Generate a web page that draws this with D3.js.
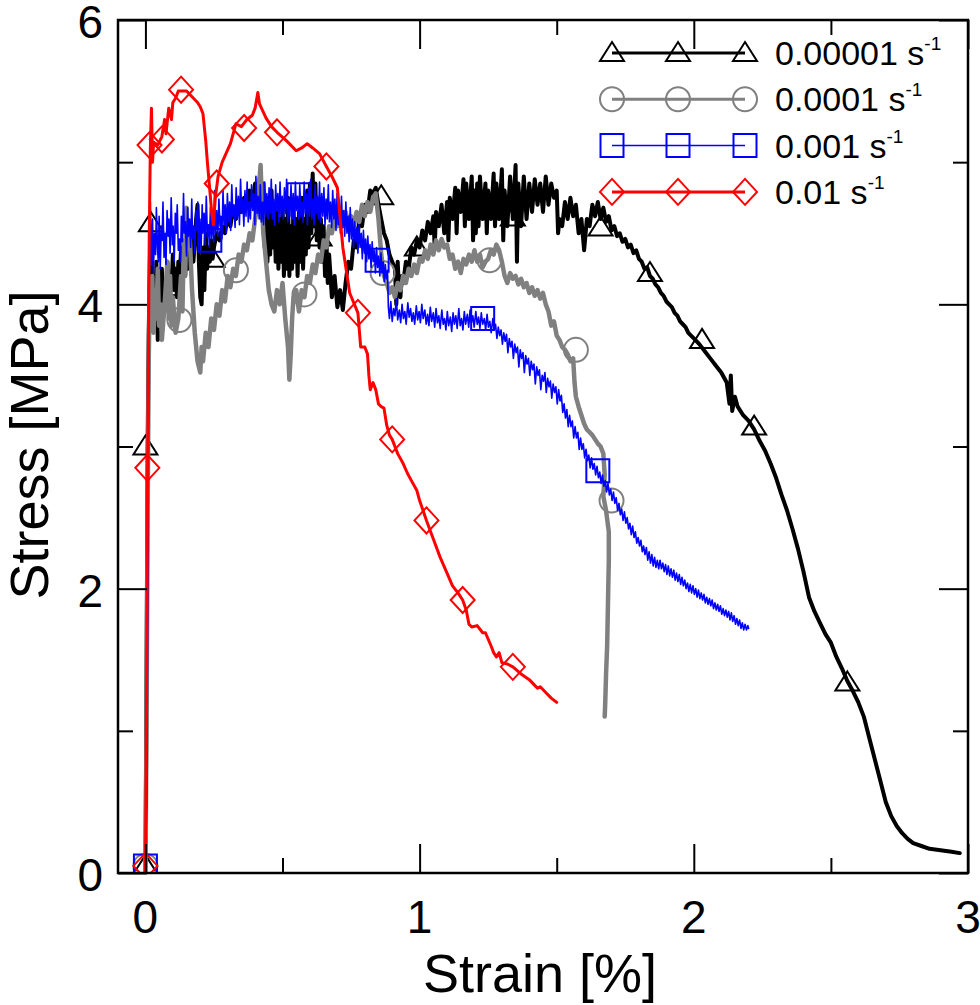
<!DOCTYPE html>
<html>
<head>
<meta charset="utf-8">
<script src="https://cdn.jsdelivr.net/npm/d3@7"></script>
<style>
body { margin: 0; background: #fff; }
text { font-family: "Liberation Sans", Arial, sans-serif; fill: #000; }
</style>
</head>
<body>
<div id="chart"></div>
<script>
// strain rates shown in the legend
var rates = ["0.00001", "0.0001", "0.001", "0.01"];
var xTicks = [0, 1, 2, 3];
var yTicks = [0, 2, 4, 6];

// [strain %, stress MPa]
var s5 = [[0,0],[0.003,1.0],[0.006,2.2],[0.008,3.0],[0.012,3.8],[0.018,4.5],[0.022,4.3],[0.026,3.85],[0.03,4.2],[0.035,3.9],[0.04,4.3],[0.045,3.75],[0.05,4.05],[0.055,3.85],[0.06,4.25],[0.065,3.95],[0.07,4.15],[0.075,4.0],[0.08,4.3],[0.085,4.05],[0.09,4.2],[0.095,4.1],[0.10,4.35],[0.105,4.1],[0.11,4.25],[0.115,4.05],[0.12,4.3],[0.125,4.15],[0.13,4.4],[0.135,4.2],[0.14,4.35],[0.145,4.2],[0.15,4.45],[0.155,4.25],[0.16,4.4],[0.165,4.25],[0.17,4.5],[0.175,4.3],[0.18,4.45],[0.185,4.6],[0.19,4.7],[0.195,4.3],[0.20,4.05],[0.205,4.0],[0.21,4.4],[0.215,4.1],[0.22,4.5],[0.225,4.25],[0.23,4.4],[0.235,4.3],[0.24,4.45],[0.245,4.32],[0.25,4.4],[0.26,4.5],[0.27,4.45],[0.28,4.55],[0.29,4.5],[0.30,4.62],[0.31,4.55],[0.32,4.68],[0.33,4.6],[0.34,4.72],[0.35,4.65],[0.36,4.75],[0.37,4.68],[0.38,4.8],[0.39,4.72],[0.40,4.85],[0.41,4.8],[0.42,4.93],[0.425,4.6],[0.43,4.85],[0.435,4.4],[0.44,4.75],[0.445,4.3],[0.45,4.7],[0.455,4.35],[0.46,4.8],[0.465,4.4],[0.47,4.7],[0.475,4.3],[0.48,4.65],[0.485,4.25],[0.49,4.6],[0.495,4.3],[0.50,4.7],[0.505,4.2],[0.51,4.6],[0.515,4.25],[0.52,4.75],[0.525,4.2],[0.53,4.55],[0.535,4.25],[0.54,4.7],[0.545,4.3],[0.55,4.6],[0.555,4.2],[0.56,4.65],[0.565,4.3],[0.57,4.75],[0.575,4.25],[0.58,4.6],[0.585,4.35],[0.59,4.8],[0.595,4.4],[0.60,4.85],[0.605,4.5],[0.61,4.92],[0.615,4.55],[0.62,4.85],[0.625,4.45],[0.63,4.7],[0.635,4.4],[0.64,4.6],[0.645,4.3],[0.65,4.55],[0.655,4.2],[0.66,4.45],[0.665,4.15],[0.67,4.35],[0.68,4.05],[0.69,4.2],[0.70,3.98],[0.71,4.1],[0.72,3.96],[0.73,4.15],[0.74,4.3],[0.75,4.25],[0.76,4.45],[0.77,4.4],[0.78,4.6],[0.79,4.55],[0.80,4.7],[0.81,4.65],[0.82,4.8],[0.83,4.78],[0.84,4.82],[0.85,4.7],[0.86,4.6],[0.87,4.5],[0.88,4.45],[0.89,4.35],[0.90,4.3],[0.91,4.25],[0.915,4.0],[0.92,4.3],[0.925,4.1],[0.93,4.05],[0.935,4.2],[0.94,4.15],[0.95,4.3],[0.96,4.25],[0.97,4.4],[0.98,4.35],[0.99,4.45],[1.0,4.4],[1.01,4.52],[1.02,4.45],[1.03,4.58],[1.04,4.5],[1.05,4.62],[1.055,4.4],[1.06,4.65],[1.07,4.55],[1.08,4.7],[1.09,4.5],[1.10,4.72],[1.105,4.45],[1.11,4.75],[1.12,4.6],[1.13,4.82],[1.135,4.5],[1.14,4.8],[1.15,4.65],[1.16,4.88],[1.165,4.55],[1.17,4.85],[1.18,4.6],[1.19,4.9],[1.195,4.45],[1.20,4.8],[1.205,4.5],[1.21,4.85],[1.215,4.55],[1.22,4.9],[1.23,4.6],[1.24,4.85],[1.245,4.5],[1.25,4.8],[1.26,4.6],[1.27,4.92],[1.275,4.55],[1.28,4.85],[1.29,4.6],[1.30,4.95],[1.305,4.45],[1.31,4.8],[1.32,4.55],[1.33,4.9],[1.34,4.6],[1.35,4.98],[1.355,4.3],[1.36,4.85],[1.37,4.55],[1.38,4.9],[1.39,4.6],[1.40,4.85],[1.41,4.65],[1.42,4.88],[1.43,4.7],[1.44,4.85],[1.45,4.65],[1.46,4.9],[1.47,4.7],[1.48,4.85],[1.49,4.75],[1.50,4.8],[1.505,4.5],[1.51,4.6],[1.52,4.55],[1.53,4.72],[1.54,4.6],[1.55,4.75],[1.56,4.62],[1.57,4.7],[1.58,4.5],[1.59,4.6],[1.60,4.38],[1.61,4.6],[1.62,4.55],[1.63,4.7],[1.64,4.62],[1.65,4.72],[1.66,4.6],[1.67,4.68],[1.68,4.58],[1.69,4.62],[1.70,4.52],[1.71,4.55],[1.72,4.48],[1.73,4.5],[1.74,4.44],[1.75,4.46],[1.76,4.4],[1.77,4.42],[1.78,4.36],[1.79,4.38],[1.80,4.32],[1.81,4.3],[1.82,4.25],[1.83,4.26],[1.84,4.2],[1.85,4.18],[1.86,4.14],[1.87,4.12],[1.88,4.08],[1.89,4.06],[1.90,4.02],[1.91,4.0],[1.92,3.98],[1.93,3.94],[1.94,3.92],[1.95,3.88],[1.96,3.86],[1.97,3.84],[1.98,3.8],[1.99,3.78],[2.0,3.76],[2.02,3.72],[2.04,3.67],[2.06,3.62],[2.08,3.57],[2.10,3.52],[2.12,3.45],[2.13,3.3],[2.135,3.5],[2.14,3.25],[2.15,3.35],[2.16,3.28],[2.18,3.22],[2.20,3.18],[2.22,3.12],[2.24,3.04],[2.26,2.97],[2.28,2.88],[2.30,2.78],[2.32,2.66],[2.34,2.55],[2.36,2.42],[2.38,2.28],[2.40,2.12],[2.42,1.94],[2.44,1.84],[2.46,1.76],[2.48,1.68],[2.50,1.62],[2.52,1.52],[2.54,1.44],[2.56,1.35],[2.58,1.28],[2.60,1.2],[2.62,1.1],[2.64,0.95],[2.66,0.8],[2.68,0.65],[2.70,0.5],[2.72,0.4],[2.74,0.33],[2.76,0.28],[2.78,0.24],[2.80,0.21],[2.83,0.19],[2.86,0.17],[2.90,0.16],[2.94,0.15],[2.97,0.14]];

var s4 = [[0,0],[0.004,1.0],[0.008,2.5],[0.012,3.6],[0.016,4.1],[0.02,3.85],[0.025,4.2],[0.03,3.8],[0.035,4.1],[0.04,3.9],[0.045,4.25],[0.05,3.85],[0.055,4.0],[0.06,3.75],[0.07,4.0],[0.08,4.3],[0.085,3.9],[0.09,4.2],[0.095,3.85],[0.10,4.05],[0.11,3.8],[0.12,3.9],[0.13,4.2],[0.135,3.95],[0.14,4.45],[0.145,4.2],[0.15,4.68],[0.155,4.4],[0.16,4.55],[0.17,4.1],[0.18,3.8],[0.19,3.6],[0.20,3.52],[0.205,3.7],[0.21,3.6],[0.22,3.8],[0.23,3.7],[0.24,3.9],[0.25,3.82],[0.26,4.0],[0.27,3.92],[0.28,4.1],[0.29,4.02],[0.30,4.2],[0.31,4.12],[0.32,4.25],[0.33,4.2],[0.34,4.35],[0.35,4.3],[0.36,4.42],[0.37,4.38],[0.38,4.5],[0.39,4.45],[0.40,4.6],[0.41,4.7],[0.415,4.85],[0.42,4.98],[0.425,4.7],[0.43,4.5],[0.44,4.3],[0.45,4.1],[0.46,4.0],[0.47,3.95],[0.48,4.1],[0.49,4.0],[0.50,4.15],[0.51,3.9],[0.52,3.7],[0.525,3.47],[0.53,3.65],[0.535,3.9],[0.54,4.05],[0.55,4.1],[0.56,3.95],[0.57,4.1],[0.58,4.05],[0.59,4.2],[0.60,4.15],[0.61,4.28],[0.62,4.22],[0.63,4.35],[0.64,4.3],[0.65,4.45],[0.66,4.4],[0.67,4.55],[0.68,4.5],[0.69,4.6],[0.70,4.55],[0.71,4.62],[0.72,4.55],[0.73,4.65],[0.74,4.58],[0.75,4.62],[0.76,4.55],[0.77,4.65],[0.78,4.58],[0.79,4.7],[0.80,4.62],[0.81,4.72],[0.82,4.65],[0.83,4.75],[0.84,4.78],[0.85,4.6],[0.86,4.35],[0.87,4.2],[0.88,4.15],[0.89,4.08],[0.90,4.12],[0.91,4.05],[0.92,4.15],[0.93,4.1],[0.94,4.2],[0.95,4.15],[0.96,4.25],[0.97,4.2],[0.98,4.28],[0.99,4.22],[1.0,4.32],[1.01,4.3],[1.02,4.38],[1.03,4.32],[1.04,4.42],[1.05,4.35],[1.06,4.45],[1.07,4.38],[1.08,4.46],[1.09,4.4],[1.10,4.42],[1.11,4.32],[1.12,4.35],[1.13,4.25],[1.14,4.3],[1.15,4.22],[1.16,4.32],[1.17,4.28],[1.18,4.35],[1.19,4.3],[1.20,4.38],[1.21,4.3],[1.22,4.35],[1.23,4.26],[1.24,4.3],[1.25,4.32],[1.26,4.38],[1.27,4.35],[1.28,4.42],[1.29,4.38],[1.30,4.3],[1.31,4.2],[1.32,4.15],[1.33,4.22],[1.34,4.18],[1.35,4.2],[1.36,4.14],[1.37,4.18],[1.38,4.12],[1.39,4.15],[1.40,4.08],[1.41,4.12],[1.42,4.06],[1.43,4.1],[1.44,4.04],[1.45,4.08],[1.46,4.0],[1.47,3.95],[1.48,3.85],[1.49,3.88],[1.50,3.78],[1.51,3.75],[1.52,3.7],[1.53,3.68],[1.54,3.65],[1.55,3.6],[1.56,3.62],[1.565,3.45],[1.57,3.35],[1.58,3.28],[1.59,3.22],[1.60,3.16],[1.61,3.12],[1.62,3.1],[1.63,3.08],[1.64,3.05],[1.65,3.02],[1.66,3.0],[1.67,2.95],[1.675,2.8],[1.67,2.65],[1.68,2.55],[1.69,2.4],[1.69,2.2],[1.688,2.0],[1.686,1.8],[1.684,1.6],[1.68,1.4],[1.677,1.2],[1.675,1.1]];

var s3 = [[0,0.05],[0.005,0.5],[0.01,2.5],[0.014,4.2],[0.018,4.72],[0.022,4.28],[0.026,4.6],[0.029,4.22],[0.033,4.5],[0.037,4.35],[0.04,4.68],[0.044,4.4],[0.047,4.3],[0.05,4.62],[0.054,4.25],[0.058,4.55],[0.061,4.45],[0.064,4.72],[0.068,4.33],[0.072,4.5],[0.075,4.28],[0.079,4.66],[0.083,4.48],[0.086,4.6],[0.09,4.36],[0.094,4.75],[0.098,4.42],[0.101,4.55],[0.105,4.3],[0.109,4.64],[0.113,4.5],[0.116,4.7],[0.12,4.38],[0.124,4.46],[0.128,4.3],[0.131,4.62],[0.135,4.44],[0.139,4.78],[0.142,4.5],[0.146,4.58],[0.15,4.34],[0.154,4.68],[0.157,4.48],[0.161,4.6],[0.165,4.4],[0.169,4.74],[0.172,4.46],[0.176,4.55],[0.18,4.36],[0.184,4.66],[0.188,4.52],[0.191,4.72],[0.195,4.42],[0.199,4.6],[0.203,4.38],[0.207,4.7],[0.21,4.5],[0.214,4.64],[0.218,4.42],[0.222,4.76],[0.226,4.48],[0.23,4.56],[0.233,4.4],[0.237,4.68],[0.241,4.46],[0.245,4.62],[0.249,4.44],[0.252,4.8],[0.256,4.5],[0.26,4.66],[0.264,4.48],[0.268,4.74],[0.272,4.55],[0.275,4.62],[0.279,4.46],[0.283,4.8],[0.287,4.56],[0.291,4.7],[0.295,4.5],[0.299,4.78],[0.303,4.58],[0.307,4.72],[0.311,4.52],[0.315,4.84],[0.319,4.62],[0.323,4.7],[0.327,4.54],[0.331,4.82],[0.335,4.6],[0.339,4.76],[0.343,4.56],[0.347,4.88],[0.351,4.64],[0.355,4.74],[0.359,4.55],[0.363,4.8],[0.367,4.62],[0.371,4.86],[0.375,4.58],[0.379,4.72],[0.383,4.6],[0.387,4.84],[0.391,4.66],[0.395,4.78],[0.399,4.56],[0.403,4.9],[0.407,4.64],[0.411,4.76],[0.415,4.6],[0.419,4.84],[0.423,4.58],[0.427,4.72],[0.431,4.56],[0.435,4.86],[0.439,4.62],[0.443,4.78],[0.447,4.6],[0.451,4.82],[0.455,4.64],[0.459,4.88],[0.463,4.6],[0.467,4.74],[0.471,4.56],[0.475,4.84],[0.479,4.66],[0.483,4.78],[0.487,4.58],[0.491,4.86],[0.495,4.62],[0.499,4.76],[0.503,4.6],[0.507,4.82],[0.511,4.64],[0.515,4.88],[0.519,4.58],[0.523,4.74],[0.527,4.62],[0.531,4.84],[0.535,4.6],[0.539,4.78],[0.543,4.56],[0.547,4.86],[0.551,4.66],[0.555,4.76],[0.559,4.6],[0.563,4.84],[0.567,4.62],[0.571,4.72],[0.575,4.58],[0.579,4.86],[0.583,4.64],[0.587,4.78],[0.591,4.56],[0.595,4.82],[0.599,4.62],[0.603,4.88],[0.607,4.6],[0.611,4.74],[0.615,4.56],[0.619,4.84],[0.623,4.64],[0.627,4.76],[0.631,4.6],[0.635,4.86],[0.639,4.58],[0.643,4.78],[0.647,4.62],[0.651,4.82],[0.655,4.56],[0.659,4.74],[0.663,4.6],[0.667,4.84],[0.671,4.58],[0.675,4.72],[0.679,4.54],[0.683,4.8],[0.687,4.6],[0.691,4.74],[0.695,4.52],[0.699,4.78],[0.703,4.56],[0.707,4.7],[0.711,4.5],[0.715,4.76],[0.719,4.54],[0.723,4.66],[0.727,4.48],[0.731,4.72],[0.735,4.5],[0.739,4.62],[0.743,4.44],[0.747,4.68],[0.751,4.46],[0.755,4.6],[0.759,4.4],[0.763,4.58],[0.767,4.44],[0.771,4.54],[0.775,4.36],[0.779,4.56],[0.783,4.4],[0.787,4.5],[0.791,4.32],[0.795,4.52],[0.799,4.36],[0.803,4.46],[0.807,4.3],[0.811,4.48],[0.815,4.32],[0.819,4.42],[0.823,4.26],[0.827,4.44],[0.831,4.3],[0.835,4.38],[0.839,4.22],[0.843,4.4],[0.847,4.26],[0.851,4.34],[0.855,4.2],[0.859,4.36],[0.863,4.22],[0.867,4.3],[0.871,4.16],[0.875,4.28],[0.879,4.18],[0.883,4.24],[0.886,3.98],[0.89,3.9],[0.895,4.02],[0.9,3.88],[0.905,3.97],[0.91,3.92],[0.915,4.04],[0.92,3.89],[0.926,3.96],[0.931,3.87],[0.936,4.0],[0.941,3.9],[0.946,3.95],[0.951,3.86],[0.957,4.01],[0.962,3.91],[0.967,3.97],[0.972,3.88],[0.977,3.94],[0.982,3.86],[0.988,3.99],[0.993,3.89],[0.998,3.95],[1.003,3.87],[1.008,4.0],[1.013,3.9],[1.019,3.96],[1.024,3.86],[1.029,3.93],[1.034,3.85],[1.039,3.98],[1.044,3.88],[1.05,3.94],[1.055,3.84],[1.06,3.97],[1.065,3.87],[1.07,3.92],[1.075,3.83],[1.081,3.96],[1.086,3.86],[1.091,3.9],[1.096,3.82],[1.101,3.95],[1.106,3.85],[1.112,3.91],[1.117,3.81],[1.122,3.94],[1.127,3.86],[1.132,3.92],[1.137,3.83],[1.143,3.97],[1.148,3.85],[1.153,3.9],[1.158,3.82],[1.163,3.95],[1.168,3.86],[1.174,3.93],[1.179,3.84],[1.184,3.96],[1.189,3.87],[1.194,3.92],[1.199,3.84],[1.205,3.95],[1.21,3.86],[1.215,3.91],[1.22,3.83],[1.225,3.94],[1.23,3.86],[1.236,3.9],[1.241,3.82],[1.246,3.93],[1.251,3.84],[1.256,3.88],[1.261,3.8],[1.267,3.9],[1.272,3.82],[1.277,3.86],[1.282,3.76],[1.287,3.84],[1.292,3.78],[1.297,3.82],[1.302,3.72],[1.307,3.8],[1.312,3.74],[1.317,3.79],[1.322,3.66],[1.327,3.76],[1.332,3.7],[1.337,3.74],[1.342,3.62],[1.347,3.72],[1.352,3.66],[1.357,3.7],[1.362,3.56],[1.367,3.68],[1.372,3.62],[1.377,3.66],[1.382,3.52],[1.387,3.64],[1.392,3.58],[1.397,3.62],[1.402,3.5],[1.407,3.6],[1.412,3.54],[1.417,3.58],[1.422,3.44],[1.427,3.56],[1.432,3.5],[1.437,3.54],[1.442,3.4],[1.447,3.5],[1.452,3.46],[1.457,3.52],[1.462,3.38],[1.467,3.48],[1.472,3.42],[1.477,3.46],[1.482,3.34],[1.487,3.44],[1.492,3.38],[1.497,3.42],[1.502,3.3],[1.507,3.4],[1.512,3.32],[1.517,3.36],[1.522,3.24],[1.527,3.3],[1.532,3.2],[1.537,3.26],[1.542,3.14],[1.547,3.22],[1.552,3.14],[1.557,3.18],[1.562,3.06],[1.567,3.14],[1.572,3.06],[1.577,3.1],[1.582,2.98],[1.587,3.06],[1.592,2.98],[1.597,3.02],[1.602,2.92],[1.607,2.98],[1.612,2.9],[1.617,2.94],[1.622,2.85],[1.627,2.92],[1.632,2.84],[1.637,2.88],[1.642,2.8],[1.647,2.86],[1.652,2.78],[1.657,2.82],[1.662,2.74],[1.667,2.8],[1.672,2.72],[1.677,2.76],[1.682,2.68],[1.687,2.74],[1.692,2.66],[1.697,2.7],[1.702,2.62],[1.707,2.68],[1.712,2.6],[1.717,2.64],[1.722,2.55],[1.727,2.6],[1.732,2.52],[1.737,2.56],[1.742,2.48],[1.747,2.54],[1.752,2.46],[1.757,2.5],[1.762,2.42],[1.767,2.46],[1.772,2.38],[1.777,2.44],[1.782,2.36],[1.787,2.4],[1.792,2.32],[1.797,2.36],[1.802,2.3],[1.807,2.34],[1.812,2.26],[1.817,2.3],[1.822,2.24],[1.827,2.29],[1.832,2.2],[1.837,2.26],[1.842,2.18],[1.847,2.24],[1.852,2.16],[1.857,2.22],[1.862,2.15],[1.867,2.2],[1.872,2.14],[1.877,2.2],[1.882,2.14],[1.887,2.18],[1.892,2.12],[1.897,2.17],[1.902,2.1],[1.907,2.16],[1.912,2.09],[1.917,2.14],[1.922,2.08],[1.927,2.13],[1.932,2.06],[1.937,2.11],[1.942,2.05],[1.947,2.1],[1.952,2.03],[1.957,2.08],[1.962,2.02],[1.967,2.06],[1.972,2.0],[1.977,2.04],[1.982,1.98],[1.987,2.03],[1.992,1.97],[1.997,2.02],[2.002,1.96],[2.007,2.0],[2.012,1.94],[2.017,1.99],[2.022,1.93],[2.027,1.97],[2.032,1.92],[2.037,1.96],[2.042,1.9],[2.047,1.94],[2.052,1.89],[2.057,1.93],[2.062,1.88],[2.067,1.92],[2.072,1.86],[2.077,1.9],[2.082,1.85],[2.087,1.89],[2.092,1.84],[2.097,1.88],[2.102,1.82],[2.107,1.86],[2.112,1.81],[2.117,1.85],[2.122,1.8],[2.127,1.84],[2.132,1.78],[2.137,1.83],[2.142,1.77],[2.147,1.81],[2.152,1.75],[2.157,1.79],[2.162,1.74],[2.167,1.78],[2.172,1.72],[2.177,1.76],[2.182,1.71],[2.187,1.75],[2.192,1.71],[2.197,1.74],[2.2,1.72]];

var s2 = [[0,0],[0.004,1.2],[0.008,2.85],[0.014,4.5],[0.018,5.1],[0.022,5.38],[0.026,5.0],[0.03,5.14],[0.045,5.12],[0.06,5.18],[0.07,5.3],[0.075,5.2],[0.085,5.38],[0.095,5.3],[0.10,5.42],[0.11,5.45],[0.12,5.5],[0.13,5.5],[0.15,5.5],[0.17,5.46],[0.19,5.42],[0.20,5.39],[0.21,5.34],[0.22,5.15],[0.226,5.0],[0.235,4.8],[0.242,4.64],[0.248,4.56],[0.255,4.75],[0.265,4.9],[0.28,5.0],[0.31,5.13],[0.33,5.27],[0.35,5.25],[0.37,5.3],[0.39,5.33],[0.40,5.38],[0.41,5.49],[0.416,5.41],[0.44,5.31],[0.46,5.25],[0.48,5.21],[0.515,5.15],[0.55,5.08],[0.57,5.1],[0.59,5.13],[0.61,5.1],[0.635,5.06],[0.66,4.97],[0.68,4.9],[0.70,4.82],[0.72,4.4],[0.745,4.08],[0.775,3.94],[0.785,3.7],[0.80,3.7],[0.81,3.65],[0.815,3.5],[0.82,3.4],[0.83,3.45],[0.84,3.4],[0.85,3.3],[0.86,3.28],[0.87,3.27],[0.88,3.15],[0.89,3.08],[0.90,3.05],[0.92,2.95],[0.94,2.88],[0.956,2.81],[0.97,2.76],[0.99,2.69],[1.0,2.62],[1.025,2.48],[1.05,2.35],[1.075,2.22],[1.10,2.11],[1.12,2.02],[1.14,1.97],[1.157,1.92],[1.17,1.85],[1.18,1.75],[1.19,1.73],[1.21,1.74],[1.23,1.69],[1.24,1.69],[1.26,1.6],[1.27,1.55],[1.28,1.52],[1.29,1.55],[1.30,1.48],[1.32,1.47],[1.34,1.45],[1.37,1.4],[1.40,1.36],[1.42,1.32],[1.43,1.3],[1.44,1.31],[1.46,1.27],[1.48,1.23],[1.50,1.2]];

// marker positions on each curve
var m5 = [[0,0.05],[0.0,3.0],[0.02,4.57],[0.09,4.12],[0.245,4.32],[0.635,4.47],[0.86,4.76],[0.99,4.40],[1.34,4.61],[1.66,4.54],[1.84,4.22],[2.03,3.75],[2.22,3.14],[2.56,1.34]];
var m4 = [[0,0.05],[0.124,3.89],[0.33,4.24],[0.58,4.07],[0.865,4.22],[1.255,4.31],[1.57,3.68],[1.70,2.62]];
var m3 = [[0,0.05],[0.235,4.45],[0.56,4.77],[0.845,4.31],[1.23,3.90],[1.65,2.83]];
var m2 = [[0,0.05],[0.007,2.85],[0.015,5.12],[0.06,5.16],[0.13,5.51],[0.26,4.85],[0.36,5.24],[0.48,5.21],[0.66,4.97],[0.775,3.94],[0.90,3.05],[1.025,2.48],[1.157,1.92],[1.34,1.45]];

var width = 980;
var height = 1005;
var pLeft = 118, pRight = 968, pTop = 20, pBottom = 873;

var x = d3.scaleLinear().domain([-0.1, 3]).range([pLeft, pRight]);
var y = d3.scaleLinear().domain([0, 6]).range([pBottom, pTop]);

var svg = d3.select("#chart").append("svg").attr("width", width).attr("height", height);

svg.append("clipPath").attr("id", "clip")
    .append("rect").attr("x", pLeft).attr("y", pTop).attr("width", pRight - pLeft).attr("height", pBottom - pTop);

// marker shapes, hollow like in the original
function shape(kind) {
    if (kind == "tri") return "M0,-11L12,8L-12,8Z";
    if (kind == "circ") return "M12,0A12,12 0 1,1 -12,0A12,12 0 1,1 12,0Z";
    if (kind == "sq") return "M-11.5,-11.5H11.5V11.5H-11.5Z";
    return "M0,-13L12,0L0,13L-12,0Z";
}

var series = [
    {data: s5, marks: m5, color: "#000000", lw: 4, kind: "tri", rate: rates[0]},
    {data: s4, marks: m4, color: "#808080", lw: 4.5, kind: "circ", rate: rates[1]},
    {data: s3, marks: m3, color: "#0000ff", lw: 1.6, kind: "sq", rate: rates[2]},
    {data: s2, marks: m2, color: "#ff0000", lw: 3, kind: "dia", rate: rates[3]}
];

var line = d3.line().x(function(d) { return x(d[0]); }).y(function(d) { return y(d[1]); });

var plot = svg.append("g").attr("clip-path", "url(#clip)");

series.forEach(function(s) {
    plot.append("path")
        .attr("d", line(s.data))
        .attr("fill", "none")
        .attr("stroke", s.color)
        .attr("stroke-width", s.lw)
        .attr("stroke-linejoin", "round")
        .attr("stroke-linecap", "round");
    plot.selectAll(null)
        .data(s.marks)
        .enter()
        .append("path")
        .attr("d", shape(s.kind))
        .attr("transform", function(d) { return "translate(" + x(d[0]) + "," + y(d[1]) + ")"; })
        .attr("fill", "none")
        .attr("stroke", s.color)
        .attr("stroke-width", 2);
});

// ticks inside on all four sides, minor ticks between
var xMinor = [0.5, 1.5, 2.5];
var yMinor = [1, 3, 5];

svg.append("g").attr("transform", "translate(0," + pBottom + ")")
    .call(d3.axisBottom(x).tickValues(xTicks).tickSizeInner(-29).tickSizeOuter(0).tickFormat(""));
svg.append("g").attr("transform", "translate(0," + pBottom + ")")
    .call(d3.axisBottom(x).tickValues(xMinor).tickSizeInner(-15).tickSizeOuter(0).tickFormat(""));
svg.append("g").attr("transform", "translate(0," + pTop + ")")
    .call(d3.axisTop(x).tickValues(xTicks).tickSizeInner(-29).tickSizeOuter(0).tickFormat(""));
svg.append("g").attr("transform", "translate(0," + pTop + ")")
    .call(d3.axisTop(x).tickValues(xMinor).tickSizeInner(-15).tickSizeOuter(0).tickFormat(""));
svg.append("g").attr("transform", "translate(" + pLeft + ",0)")
    .call(d3.axisLeft(y).tickValues(yTicks).tickSizeInner(-29).tickSizeOuter(0).tickFormat(""));
svg.append("g").attr("transform", "translate(" + pLeft + ",0)")
    .call(d3.axisLeft(y).tickValues(yMinor).tickSizeInner(-15).tickSizeOuter(0).tickFormat(""));
svg.append("g").attr("transform", "translate(" + pRight + ",0)")
    .call(d3.axisRight(y).tickValues(yTicks).tickSizeInner(-29).tickSizeOuter(0).tickFormat(""));
svg.append("g").attr("transform", "translate(" + pRight + ",0)")
    .call(d3.axisRight(y).tickValues(yMinor).tickSizeInner(-15).tickSizeOuter(0).tickFormat(""));

svg.selectAll(".domain").remove();
svg.selectAll(".tick line").attr("stroke", "#000").attr("stroke-width", 2);

svg.append("rect")
    .attr("x", pLeft).attr("y", pTop)
    .attr("width", pRight - pLeft).attr("height", pBottom - pTop)
    .attr("fill", "none").attr("stroke", "#000").attr("stroke-width", 2.5);

// tick labels
svg.selectAll(".xl").data(xTicks).enter().append("text")
    .attr("x", function(d) { return x(d); })
    .attr("y", 933)
    .attr("text-anchor", "middle")
    .style("font-size", "46px")
    .text(function(d) { return d; });

svg.selectAll(".yl").data(yTicks).enter().append("text")
    .attr("x", 103)
    .attr("y", function(d) { return y(d) + 18; })
    .attr("text-anchor", "end")
    .style("font-size", "46px")
    .text(function(d) { return d; });

svg.append("text")
    .attr("x", 540).attr("y", 992)
    .attr("text-anchor", "middle")
    .style("font-size", "54px")
    .text("Strain [%]");

svg.append("text")
    .attr("transform", "translate(48,445) rotate(-90)")
    .attr("text-anchor", "middle")
    .style("font-size", "54px")
    .text("Stress [MPa]");

// legend
var lx = [612, 678, 745];
series.forEach(function(s, i) {
    var ly = 53 + i * 46.3;
    var g = svg.append("g");
    g.append("line")
        .attr("x1", lx[0]).attr("x2", lx[2]).attr("y1", ly).attr("y2", ly)
        .attr("stroke", s.color).attr("stroke-width", s.lw > 2 ? 3 : 1.5);
    g.selectAll(null).data(lx).enter().append("path")
        .attr("d", shape(s.kind))
        .attr("transform", function(d) { return "translate(" + d + "," + ly + ")"; })
        .attr("fill", "none").attr("stroke", s.color).attr("stroke-width", 2);
    var t = g.append("text").attr("x", 775).attr("y", ly + 12).style("font-size", "34px");
    t.append("tspan").text(s.rate + " s");
    t.append("tspan").attr("dy", -15).style("font-size", "19px").text("-1");
});
</script>
</body>
</html>
